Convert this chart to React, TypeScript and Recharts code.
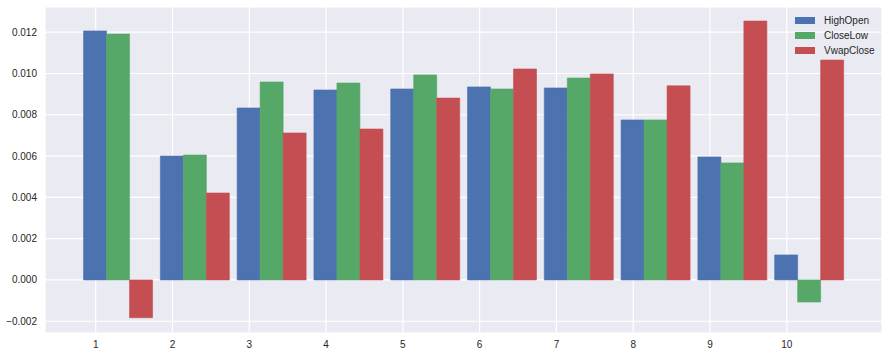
import { BarChart, Bar, XAxis, YAxis, CartesianGrid } from "recharts"

const categories = [1, 2, 3, 4, 5, 6, 7, 8, 9, 10]

const highOpen = [0.01206, 0.006, 0.00833, 0.0092, 0.00925, 0.00935, 0.0093, 0.00775, 0.00596, 0.00121]
const closeLow = [0.01191, 0.00605, 0.00959, 0.00954, 0.00993, 0.00925, 0.00978, 0.00775, 0.00567, -0.00107]
const vwapClose = [-0.00183, 0.00421, 0.00712, 0.00731, 0.00881, 0.01022, 0.00998, 0.0094, 0.01254, 0.01065]

const yTicks = [-0.002, 0, 0.002, 0.004, 0.006, 0.008, 0.01, 0.012]

const series = [
  { key: "HighOpen", color: "#4C72B0" },
  { key: "CloseLow", color: "#55A868" },
  { key: "VwapClose", color: "#C44E52" },
]

// pandas-style grouped bars: first bar sits on the tick, group is shifted right
const groupShift = 0.29

const data = categories.map((c, i) => ({
  x: c + groupShift,
  HighOpen: highOpen[i],
  CloseLow: closeLow[i],
  VwapClose: vwapClose[i],
}))

const font = "'Liberation Sans', Arial, sans-serif"
const tickStyle = { fontSize: 10, fill: "#262626", fontFamily: font }

const fmt = (v: number) => v.toFixed(3).replace("-", "\u2212")

export default function App() {
  return (
    <div style={{ position: "absolute", left: 0, top: 0, width: 889, height: 357, background: "#fff" }}>
      <BarChart
        width={889}
        height={357}
        data={data}
        margin={{ top: 7, right: 7, bottom: 0, left: 0 }}
        barGap={0}
        barSize={23}
      >
        <CartesianGrid fill="#EAEAF2" stroke="#ffffff" strokeWidth={1.2} />
        <XAxis
          type="number"
          dataKey="x"
          domain={[0.34, 11.24]}
          ticks={categories}
          allowDataOverflow
          axisLine={false}
          tickLine={false}
          height={24}
          tick={tickStyle}
          interval={0}
        />
        <YAxis
          domain={[-0.00257, 0.01322]}
          ticks={yTicks}
          allowDataOverflow
          axisLine={false}
          tickLine={false}
          width={45}
          tick={tickStyle}
          tickFormatter={fmt}
          interval={0}
        />
        {series.map((s) => (
          <Bar
            key={s.key}
            dataKey={s.key}
            fill={s.color}
            stroke={s.color}
            strokeWidth={0.6}
            isAnimationActive={false}
          />
        ))}
      </BarChart>
      <div style={{ position: "absolute", left: 795, top: 13, fontFamily: font, fontSize: 10, color: "#262626" }}>
        {series.map((s) => (
          <div key={s.key} style={{ display: "flex", alignItems: "center", height: 15 }}>
            <div style={{ width: 20, height: 7, background: s.color, marginRight: 9 }} />
            <span>{s.key}</span>
          </div>
        ))}
      </div>
    </div>
  )
}
